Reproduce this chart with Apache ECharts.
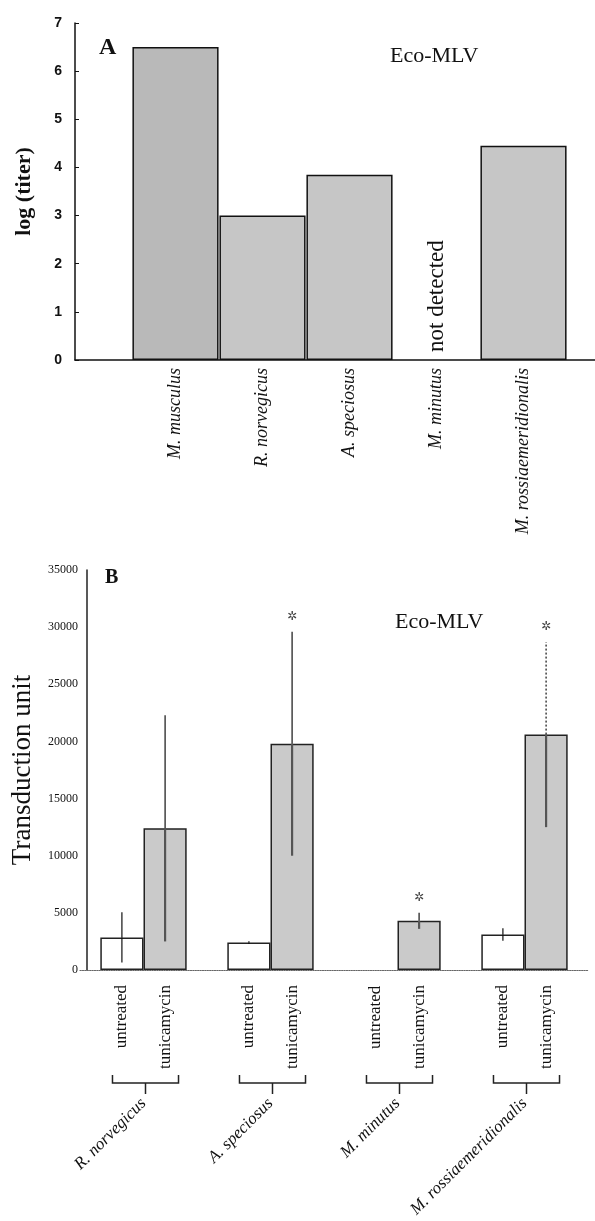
<!DOCTYPE html>
<html>
<head>
<meta charset="utf-8">
<script src="https://cdn.jsdelivr.net/npm/echarts@6/dist/echarts.min.js"></script>
<style>html,body{margin:0;padding:0;background:#fff}#c{width:595px;height:1221px}</style>
</head>
<body>
<div id="c"></div>
<script>
// ---- Panel A data ----
const speciesA = ['M. musculus', 'R. norvegicus', 'A. speciosus', 'M. minutus', 'M. rossiaemeridionalis'];
const logTiter = [6.5, 3.0, 3.85, null, 4.45];
const notDetectedText = 'not detected';

// ---- Panel B data ----
const speciesB = ['R. norvegicus', 'A. speciosus', 'M. minutus', 'M. rossiaemeridionalis'];
const treatmentNames = ['untreated', 'tunicamycin'];
const untreated = [2850, 2400, 0, 3100];
const untreatedErr = [2200, 120, 0, 550];
const tunicamycin = [12400, 19800, 4300, 20600];
const tunicamycinErr = [9900, 9800, 700, 8100];
const tunicamycinSig = [false, true, true, true];

const SERIF = "'Liberation Serif','DejaVu Serif',serif";
const SANS = "'Liberation Sans','DejaVu Sans',sans-serif";
const INK = '#111';
const CAT_GAP_B = 0.32;

const chart = echarts.init(document.getElementById('c'), null, {renderer: 'canvas'});

function barData(arr) {
  // zero bars are drawn without an outline (nothing measured)
  return arr.map(v => v === 0 ? {value: v, itemStyle: {borderColor: 'rgba(0,0,0,0)'}} : v);
}

function errItem(offsetSign, thickLower, sigArr) {
  return function (params, api) {
    const i = api.value(0), m = api.value(1), e = api.value(2);
    if (!(m > 0)) return null;
    const band = api.size([1, 0])[0];
    const bw = band * (1 - CAT_GAP_B) / 2;
    const base = api.coord([i, m]);
    const x = base[0] + offsetSign * bw / 2;
    const yTop = api.coord([i, m + e])[1];
    const yLow = api.coord([i, Math.max(m - e, 0)])[1];
    const dotted = speciesB[i] === 'M. rossiaemeridionalis' && offsetSign > 0;
    const children = [
      {type: 'line', shape: {x1: x, y1: base[1], x2: x, y2: yTop},
       style: {stroke: '#111', lineWidth: 1.2, lineDash: dotted ? [2, 2] : null}},
      {type: 'line', shape: {x1: x, y1: base[1], x2: x, y2: yLow},
       style: {stroke: thickLower ? '#555' : '#111', lineWidth: thickLower ? 2.2 : 1.2}}
    ];
    if (sigArr && sigArr[i]) {
      children.push({type: 'text', x: x, y: yTop - 15,
        style: {text: '\u2732', fontSize: 12, fill: '#444', align: 'center', verticalAlign: 'middle', fontFamily: "'DejaVu Sans',sans-serif"}});
    }
    return {type: 'group', children: children};
  };
}

const option = {
  animation: false,
  backgroundColor: '#fff',
  title: [
    {text: 'A', left: 94, top: 31, textStyle: {fontFamily: SERIF, fontSize: 24, fontWeight: 'bold', color: INK}},
    {text: 'Eco-MLV', left: 385, top: 40, textStyle: {fontFamily: SERIF, fontSize: 22, fontWeight: 'normal', color: INK}},
    {text: 'B', left: 100, top: 563, textStyle: {fontFamily: SERIF, fontSize: 20, fontWeight: 'bold', color: INK}},
    {text: 'Eco-MLV', left: 390, top: 606, textStyle: {fontFamily: SERIF, fontSize: 22, fontWeight: 'normal', color: INK}}
  ],
  grid: [
    {left: 132, right: 28, top: 23, height: 337, outerBoundsMode: 'none', containLabel: false},
    {left: 75, right: 0, top: 23, height: 337, outerBoundsMode: 'none', containLabel: false},
    {left: 80, right: 7, top: 570, height: 400, outerBoundsMode: 'none', containLabel: false}
  ],
  xAxis: [
    {type: 'category', gridIndex: 0, data: speciesA,
     axisLine: {show: false}, axisTick: {show: false},
     axisLabel: {rotate: 90, margin: 8, interval: 0, fontFamily: SERIF, fontStyle: 'italic', fontSize: 18, color: INK}},
    {type: 'value', gridIndex: 1, min: 0, max: 1,
     axisLine: {show: true, lineStyle: {color: '#111', width: 1.5}},
     axisTick: {show: false}, axisLabel: {show: false}, splitLine: {show: false}},
    {type: 'category', gridIndex: 2, data: speciesB,
     axisLine: {show: true, lineStyle: {color: '#666', width: 1.2, type: 'dotted'}},
     axisTick: {show: false},
     axisLabel: {rotate: 45, margin: 131, interval: 0, fontFamily: SERIF, fontStyle: 'italic', fontSize: 17, color: INK}}
  ],
  yAxis: [
    {type: 'value', gridIndex: 0, min: 0, max: 7, interval: 1, offset: 57,
     name: 'log (titer)', nameLocation: 'middle', nameRotate: 90, nameGap: 40,
     nameTextStyle: {fontFamily: SERIF, fontSize: 22, fontWeight: 'bold', color: INK},
     axisLine: {show: true, lineStyle: {color: '#111', width: 1.5}},
     axisTick: {show: true, inside: true, length: 4, lineStyle: {color: '#111'}},
     axisLabel: {margin: 13, fontFamily: SANS, fontSize: 14, fontWeight: 'bold', color: INK},
     splitLine: {show: false}},
    {type: 'value', gridIndex: 1, show: false, min: 0, max: 1},
    {type: 'value', gridIndex: 2, min: 0, max: 35000, interval: 5000, offset: -7,
     name: 'Transduction unit', nameLocation: 'middle', nameRotate: 90, nameGap: 51,
     nameTextStyle: {fontFamily: SERIF, fontSize: 27, color: INK},
     axisLine: {show: true, lineStyle: {color: '#222', width: 1.5}},
     axisTick: {show: false},
     axisLabel: {margin: 9, fontFamily: SERIF, fontSize: 12, color: INK, formatter: v => String(v)},
     splitLine: {show: false}}
  ],
  series: [
    {type: 'bar', xAxisIndex: 0, yAxisIndex: 0, data: logTiter, barCategoryGap: '1%',
     itemStyle: {color: function (p) { return p.dataIndex === 0 ? '#b9b9b9' : '#c6c6c6'; }, borderColor: '#111', borderWidth: 1.5}},
    {type: 'custom', xAxisIndex: 0, yAxisIndex: 0,
     data: logTiter.map((v, i) => [i, v]).filter(d => d[1] === null).map(d => [d[0], 0]),
     renderItem: function (params, api) {
       const p = api.coord([api.value(0), 0]);
       return {type: 'text', x: p[0], y: p[1] - 8, rotation: Math.PI / 2,
         style: {text: notDetectedText, fontFamily: SERIF, fontSize: 23, fill: INK, align: 'left', verticalAlign: 'middle'}};
     }},
    {type: 'bar', name: treatmentNames[0], xAxisIndex: 2, yAxisIndex: 2, data: barData(untreated),
     barCategoryGap: (CAT_GAP_B * 100) + '%', barGap: '0%',
     itemStyle: {color: '#fff', borderColor: '#222', borderWidth: 1.5},
     label: {show: true, position: 'bottom', distance: 15, rotate: 90, align: 'right', verticalAlign: 'middle',
       formatter: treatmentNames[0], fontFamily: SERIF, fontSize: 17, color: INK}},
    {type: 'bar', name: treatmentNames[1], xAxisIndex: 2, yAxisIndex: 2, data: barData(tunicamycin),
     barCategoryGap: (CAT_GAP_B * 100) + '%', barGap: '0%',
     itemStyle: {color: '#cacaca', borderColor: '#222', borderWidth: 1.5},
     label: {show: true, position: 'bottom', distance: 15, rotate: 90, align: 'right', verticalAlign: 'middle',
       formatter: treatmentNames[1], fontFamily: SERIF, fontSize: 17, color: INK}},
    {type: 'custom', xAxisIndex: 2, yAxisIndex: 2, z: 5,
     data: untreated.map((v, i) => [i, v, untreatedErr[i]]),
     renderItem: errItem(-1, false, null)},
    {type: 'custom', xAxisIndex: 2, yAxisIndex: 2, z: 5,
     data: tunicamycin.map((v, i) => [i, v, tunicamycinErr[i]]),
     renderItem: errItem(1, true, tunicamycinSig)},
    {type: 'custom', xAxisIndex: 2, yAxisIndex: 2,
     data: speciesB.map((s, i) => [i, 0]),
     renderItem: function (params, api) {
       const p = api.coord([api.value(0), 0]);
       const band = api.size([1, 0])[0];
       const hw = band * 0.26;
       const cx = p[0] + 2, y = p[1] + 113;
       return {type: 'group', children: [
         {type: 'polyline', shape: {points: [[cx - hw, y - 8], [cx - hw, y], [cx + hw, y], [cx + hw, y - 8]]},
          style: {stroke: '#222', lineWidth: 1.5, fill: null}},
         {type: 'line', shape: {x1: cx, y1: y, x2: cx, y2: y + 11}, style: {stroke: '#222', lineWidth: 1.5}}
       ]};
     }}
  ]
};
chart.setOption(option);
</script>
</body>
</html>
